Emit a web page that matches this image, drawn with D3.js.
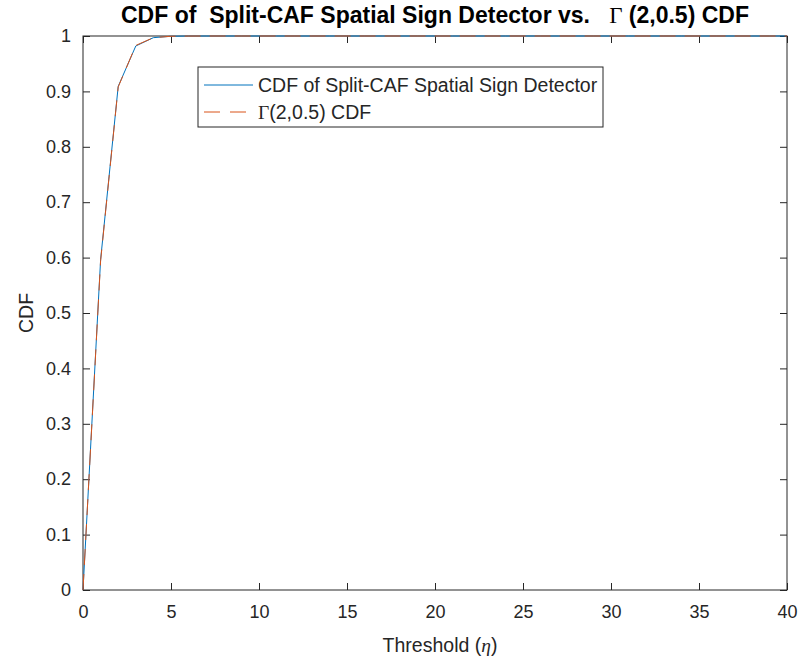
<!DOCTYPE html>
<html>
<head>
<meta charset="utf-8">
<script src="https://d3js.org/d3.v7.min.js"></script>
<style>
  body { margin: 0; background: #fff; }
  svg text { font-family: "Liberation Sans", Arial, sans-serif; fill: #262626; white-space: pre; }
  .serif { font-family: "Liberation Serif", "Times New Roman", serif; }
</style>
</head>
<body>
<div id="chart"></div>
<script>
// thresholds (eta) and the two CDF curves
const thresholds = [0,1,2,3,4,5,6,7,8,9,10,11,12,13,14,15,16,17,18,19,20,
                    21,22,23,24,25,26,27,28,29,30,31,32,33,34,35,36,37,38,39,40];
const empiricalCdf = [0, 0.596, 0.909, 0.982, 0.997, 0.9995, 1, 1, 1, 1, 1,
                      1, 1, 1, 1, 1, 1, 1, 1, 1, 1, 1, 1, 1, 1, 1, 1, 1, 1, 1, 1,
                      1, 1, 1, 1, 1, 1, 1, 1, 1, 1];
const gammaCdf = [0, 0.594, 0.908, 0.983, 0.997, 0.9995, 0.9999, 1, 1, 1, 1,
                  1, 1, 1, 1, 1, 1, 1, 1, 1, 1, 1, 1, 1, 1, 1, 1, 1, 1, 1, 1,
                  1, 1, 1, 1, 1, 1, 1, 1, 1, 1];
const xTicks = [0,5,10,15,20,25,30,35,40];
const yTicks = [0,0.1,0.2,0.3,0.4,0.5,0.6,0.7,0.8,0.9,1];

const width = 800, height = 664;
const margin = {top: 36, right: 13, bottom: 74, left: 83};
const iw = width - margin.left - margin.right;
const ih = height - margin.top - margin.bottom;

const svg = d3.select("#chart").append("svg")
  .attr("width", width).attr("height", height);

const g = svg.append("g").attr("transform", `translate(${margin.left},${margin.top})`);

const x = d3.scaleLinear().domain([0, 40]).range([0, iw]);
const y = d3.scaleLinear().domain([0, 1]).range([ih, 0]);

const fmtY = d => d === 0 || d === 1 ? String(d) : d3.format(".1f")(d);

function styleAxis(sel) {
  sel.select(".domain").remove();
  sel.selectAll("line").attr("stroke", "#262626");
  sel.selectAll("text").attr("font-size", 18).attr("fill", "#262626");
}

g.append("g").attr("transform", `translate(0,${ih})`)
  .call(d3.axisBottom(x).tickValues(xTicks).tickSize(-7).tickPadding(15))
  .call(styleAxis);
g.append("g")
  .call(d3.axisTop(x).tickValues(xTicks).tickSize(-7).tickFormat(""))
  .call(styleAxis);
g.append("g")
  .call(d3.axisLeft(y).tickValues(yTicks).tickSize(-7).tickPadding(12).tickFormat(fmtY))
  .call(styleAxis);
g.append("g").attr("transform", `translate(${iw},0)`)
  .call(d3.axisRight(y).tickValues(yTicks).tickSize(-7).tickFormat(""))
  .call(styleAxis);

g.append("rect").attr("width", iw).attr("height", ih)
  .attr("fill", "none").attr("stroke", "#262626").attr("stroke-width", 1);

const line = d3.line().x(d => x(d[0])).y(d => y(d[1]));

g.append("path").datum(thresholds.map((t, i) => [t, empiricalCdf[i]]))
  .attr("d", line).attr("fill", "none").attr("stroke", "#0072BD").attr("stroke-width", 1);
g.append("path").datum(thresholds.map((t, i) => [t, gammaCdf[i]]))
  .attr("d", line).attr("fill", "none").attr("stroke", "#D95319").attr("stroke-width", 1)
  .attr("stroke-dasharray", "16,9");

// legend
const lg = svg.append("g").attr("transform", "translate(198,67)");
lg.append("rect").attr("width", 405).attr("height", 60)
  .attr("fill", "#fff").attr("stroke", "#262626").attr("stroke-width", 1);
lg.append("line").attr("x1", 6).attr("x2", 55).attr("y1", 18).attr("y2", 18)
  .attr("stroke", "#0072BD");
lg.append("line").attr("x1", 6).attr("x2", 55).attr("y1", 45).attr("y2", 45)
  .attr("stroke", "#D95319").attr("stroke-dasharray", "16,10");
lg.append("text").attr("x", 60).attr("y", 25).attr("font-size", 19.5)
  .text("CDF of Split-CAF Spatial Sign Detector");
const l2 = lg.append("text").attr("x", 60).attr("y", 52).attr("font-size", 19.5);
l2.append("tspan").attr("class", "serif").text("Γ");
l2.append("tspan").text("(2,0.5) CDF");

// title
const title = svg.append("text").attr("x", margin.left + iw / 2).attr("y", 23)
  .attr("text-anchor", "middle").attr("font-size", 23).attr("font-weight", "bold")
  .style("fill", "#000");
title.append("tspan").text("CDF of  Split-CAF Spatial Sign Detector vs.   ");
title.append("tspan").attr("class", "serif").attr("font-weight", "normal").text("Γ");
title.append("tspan").text(" (2,0.5) CDF");

// axis labels
const xl = svg.append("text").attr("x", margin.left + iw / 2 + 5).attr("y", 652)
  .attr("text-anchor", "middle").attr("font-size", 19.5);
xl.append("tspan").text("Threshold (");
xl.append("tspan").attr("class", "serif").attr("font-style", "italic").text("η");
xl.append("tspan").text(")");

svg.append("text").attr("transform", `translate(33,${margin.top + ih / 2}) rotate(-90)`)
  .attr("text-anchor", "middle").attr("font-size", 19.5).text("CDF");
</script>
</body>
</html>
